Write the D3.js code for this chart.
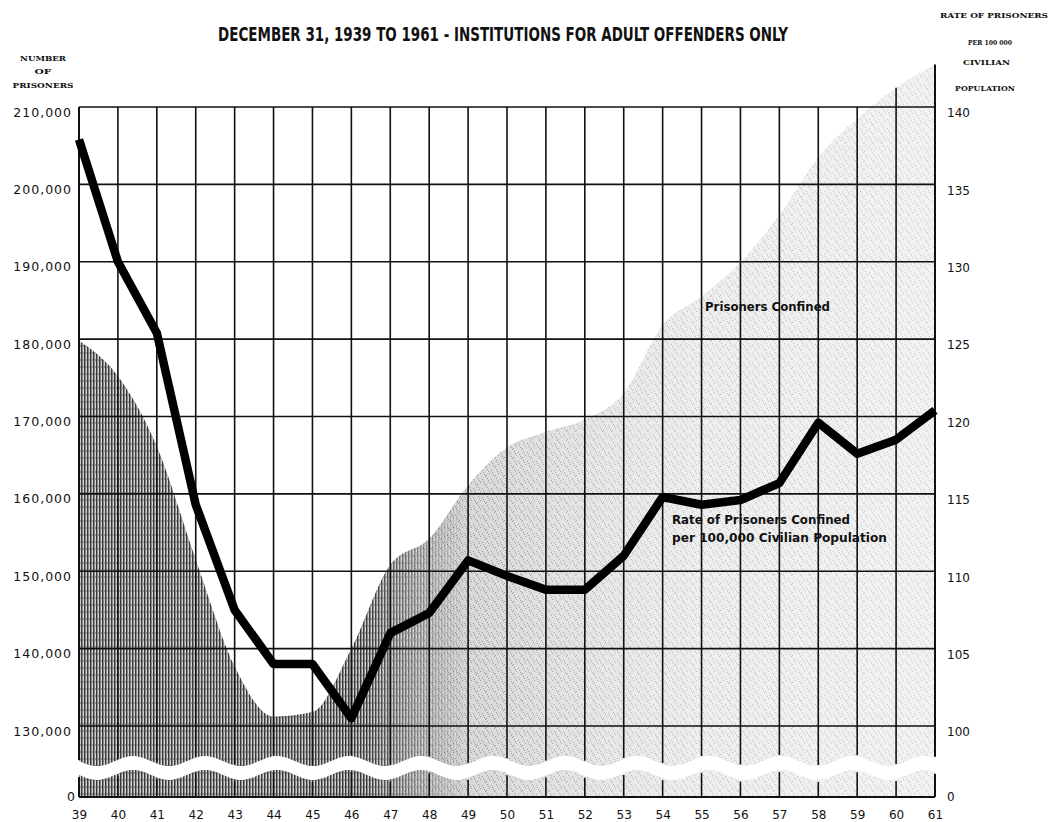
<!DOCTYPE html>
<html>
<head>
<meta charset="utf-8">
<script src="https://cdn.jsdelivr.net/npm/d3@7"></script>
<style>
  html, body { margin: 0; padding: 0; background: #ffffff; }
  svg { display: block; }
</style>
</head>
<body>
<svg id="chart" width="1052" height="822"></svg>
<script>
// ---------------- DATA ----------------
const years = [1939,1940,1941,1942,1943,1944,1945,1946,1947,1948,1949,1950,1951,1952,1953,1954,1955,1956,1957,1958,1959,1960,1961];
const yearLabels = ["39","40","41","42","43","44","45","46","47","48","49","50","51","52","53","54","55","56","57","58","59","60","61"];
// Prisoners confined (left axis)
const prisoners = [179800,175200,166100,151500,137700,131200,131800,140000,150800,154200,161100,166000,168000,169600,173000,181800,185500,190000,196000,203500,208500,212500,215500];
// Rate of prisoners per 100,000 civilian population (right axis)
const rate = [137.9,130.0,125.4,114.3,107.5,104.0,104.0,100.5,106.0,107.3,110.7,109.7,108.8,108.8,111.0,114.8,114.3,114.6,115.7,119.6,117.6,118.5,120.4];
// Tick values / labels
const leftTicks = [130000,140000,150000,160000,170000,180000,190000,200000,210000];
const leftTickLabels = ["130,000","140,000","150,000","160,000","170,000","180,000","190,000","200,000","210,000"];
const rightTicks = [100,105,110,115,120,125,130,135,140];
const rightTickLabels = ["100","105","110","115","120","125","130","135","140"];
const titleText = "DECEMBER 31, 1939 TO 1961  -  INSTITUTIONS FOR ADULT OFFENDERS ONLY";
const leftTitle = ["NUMBER","OF","PRISONERS"];
const rightTitle = ["RATE OF PRISONERS","PER 100 000","CIVILIAN","POPULATION"];

// ---------------- LAYOUT ----------------
const svg = d3.select("#chart");
const X0 = 79, X1 = 935, YTOP = 107, Y130 = 726, YZERO = 797;
const x = d3.scaleLinear().domain([1939,1961]).range([X0, X1]);
const yN = d3.scaleLinear().domain([130000,210000]).range([Y130, YTOP]);
const yR = d3.scaleLinear().domain([100,140]).range([Y130, YTOP]);
const waveUpper = px => 761 + 5 * Math.sin((px - X0) / 72 * 2 * Math.PI);
const waveLower = px => waveUpper(px) + 14;
const wavePts = d3.range(X0, X1 + 0.1, 2).concat([X1]);

const defs = svg.append("defs");
// vertical hatch pattern
const hatch = defs.append("pattern").attr("id","hatch").attr("patternUnits","userSpaceOnUse")
  .attr("width",3).attr("height",7);
hatch.append("rect").attr("width",3).attr("height",7).attr("fill","#d4d4d4");
hatch.append("rect").attr("x",0).attr("width",1.5).attr("height",7).attr("fill","#3a3a3a");
hatch.append("rect").attr("x",1.8).attr("y",2).attr("width",0.8).attr("height",2).attr("fill","#777");
// stipple pattern
const dots = defs.append("pattern").attr("id","dots").attr("patternUnits","userSpaceOnUse")
  .attr("width",9).attr("height",9);
[[1,1],[5,2],[3,5],[7,6],[0,7],[6,4],[2,3],[8,8]].forEach(([a,b]) =>
  dots.append("rect").attr("x",a).attr("y",b).attr("width",1).attr("height",1).attr("fill","#555"));
// base gradient
const gb = defs.append("linearGradient").attr("id","gradBase").attr("gradientUnits","userSpaceOnUse")
  .attr("x1",X0).attr("x2",X1).attr("y1",0).attr("y2",0);
[[0,"#c0c0c0"],[0.32,"#cacaca"],[0.45,"#d8d8d8"],[0.6,"#e6e6e6"],[0.72,"#eeeeee"],[1,"#f2f2f2"]].forEach(([o,c]) =>
  gb.append("stop").attr("offset",o).attr("stop-color",c));
// dot density gradient (as mask)
const gd = defs.append("linearGradient").attr("id","gradDots").attr("gradientUnits","userSpaceOnUse")
  .attr("x1",X0).attr("x2",X1).attr("y1",0).attr("y2",0);
[[0,"#fff"],[0.45,"#ddd"],[0.65,"#888"],[1,"#666"]].forEach(([o,c]) =>
  gd.append("stop").attr("offset",o).attr("stop-color",c));
defs.append("mask").attr("id","dotsMask").attr("maskUnits","userSpaceOnUse")
  .attr("x",0).attr("y",0).attr("width",1052).attr("height",822)
  .append("rect").attr("x",0).attr("y",0).attr("width",1052).attr("height",822).attr("fill","url(#gradDots)");
// hatch fade mask
const gm = defs.append("linearGradient").attr("id","gradMask").attr("gradientUnits","userSpaceOnUse")
  .attr("x1",x(1946.4)).attr("x2",x(1949)).attr("y1",0).attr("y2",0);
gm.append("stop").attr("offset",0).attr("stop-color","#fff");
gm.append("stop").attr("offset",1).attr("stop-color","#000");
defs.append("mask").attr("id","hatchMask").attr("maskUnits","userSpaceOnUse")
  .attr("x",0).attr("y",0).attr("width",1052).attr("height",822)
  .append("rect").attr("x",0).attr("y",0).attr("width",1052).attr("height",822).attr("fill","url(#gradMask)");

// ---------------- AREA ----------------
const pdata = years.map((yr,i) => ({year: yr, v: prisoners[i]}));
const topLine = d3.line().x(d => x(d.year)).y(d => yN(d.v)).curve(d3.curveMonotoneX)(pdata);
const upperPath = topLine + wavePts.slice().reverse().map(px => "L" + px + "," + waveUpper(px)).join("") + "Z";
const lowerPath = "M" + wavePts.map(px => px + "," + waveLower(px)).join("L") + "L" + X1 + "," + YZERO + "L" + X0 + "," + YZERO + "Z";

const areaG = svg.append("g");
[upperPath, lowerPath].forEach(p => {
  areaG.append("path").attr("d", p).attr("fill","url(#gradBase)");
  areaG.append("path").attr("d", p).attr("fill","url(#dots)").attr("mask","url(#dotsMask)").attr("opacity",0.6);
  areaG.append("path").attr("d", p).attr("fill","url(#hatch)").attr("mask","url(#hatchMask)");
});

// ---------------- GRID ----------------
const grid = svg.append("g").attr("stroke","#111").attr("fill","none");
leftTicks.forEach(t => grid.append("line").attr("x1",X0).attr("x2",X1)
  .attr("y1",yN(t)).attr("y2",yN(t)).attr("stroke-width",1.6));
years.forEach((yr,i) => {
  const px = x(yr);
  const top = Math.min(YTOP, yN(prisoners[i]));
  const w = (i === 0 || i === years.length - 1) ? 2 : 1.6;
  grid.append("line").attr("x1",px).attr("x2",px).attr("y1", (i===0) ? YTOP : top).attr("y2", waveUpper(px) - 1)
    .attr("stroke-width", w);
  grid.append("line").attr("x1",px).attr("x2",px).attr("y1", waveLower(px) + 2).attr("y2", YZERO)
    .attr("stroke-width", w);
});
grid.append("line").attr("x1",X0).attr("x2",X1).attr("y1",YZERO).attr("y2",YZERO).attr("stroke-width",2.2);

// ---------------- RATE LINE ----------------
const rdata = years.map((yr,i) => ({year: yr, r: rate[i]}));
svg.append("path")
  .attr("d", d3.line().x(d => x(d.year)).y(d => yR(d.r))(rdata))
  .attr("fill","none").attr("stroke","#000").attr("stroke-width",8.5)
  .attr("stroke-linejoin","round").attr("stroke-linecap","butt");

// ---------------- AXES ----------------
const leftAxis = d3.axisLeft(yN).tickValues(leftTicks).tickFormat((d,i) => leftTickLabels[i]).tickSize(0).tickPadding(7);
const gl = svg.append("g").attr("transform",`translate(${X0},5)`).call(leftAxis);
gl.select(".domain").remove();
gl.selectAll("text").attr("font-family","DejaVu Sans, sans-serif").attr("font-size",12.5)
  .attr("letter-spacing",1).attr("fill","#111");

const rightAxis = d3.axisRight(yR).tickValues(rightTicks).tickFormat((d,i) => rightTickLabels[i]).tickSize(0).tickPadding(12);
const gr = svg.append("g").attr("transform",`translate(${X1},6)`).call(rightAxis);
gr.select(".domain").remove();
gr.selectAll("text").attr("font-family","DejaVu Sans, sans-serif").attr("font-size",12).attr("fill","#111");

// zero labels (below the scale break)
svg.append("text").attr("x",75).attr("y",YZERO+4).attr("text-anchor","end")
  .attr("font-family","DejaVu Sans, sans-serif").attr("font-size",12.5).attr("fill","#111").text("0");
svg.append("text").attr("x",947).attr("y",YZERO+4).attr("text-anchor","start")
  .attr("font-family","DejaVu Sans, sans-serif").attr("font-size",12).attr("fill","#111").text("0");

const bottomAxis = d3.axisBottom(x).tickValues(years).tickFormat((d,i) => yearLabels[i]).tickSize(0).tickPadding(13);
const gx = svg.append("g").attr("transform",`translate(0,${YZERO})`).call(bottomAxis);
gx.select(".domain").remove();
gx.selectAll("text").attr("font-family","DejaVu Sans, sans-serif").attr("font-size",12).attr("fill","#111");

// ---------------- TITLES ----------------
svg.append("text").attr("x",218).attr("y",41)
  .attr("font-family","DejaVu Sans Condensed, DejaVu Sans, sans-serif").attr("font-weight","bold")
  .attr("font-size",19).attr("textLength",570).attr("lengthAdjust","spacingAndGlyphs")
  .attr("fill","#111").text(titleText);

const ltY = [61, 74, 88], ltW = [46, 17, 61];
leftTitle.forEach((t,i) => svg.append("text").attr("x",43 - ltW[i]/2).attr("y",ltY[i])
  .attr("font-family","DejaVu Serif, serif").attr("font-weight","bold").attr("font-size",8)
  .attr("textLength",ltW[i]).attr("lengthAdjust","spacingAndGlyphs").attr("fill","#111").text(t));

const rtY = [18, 45, 65, 91], rtX = [940, 968, 963, 955], rtW = [108, 44, 47, 60];
rightTitle.forEach((t,i) => svg.append("text").attr("x",rtX[i]).attr("y",rtY[i])
  .attr("font-family","DejaVu Serif, serif").attr("font-weight","bold").attr("font-size",8)
  .attr("textLength",rtW[i]).attr("lengthAdjust","spacingAndGlyphs").attr("fill","#111").text(t));

// ---------------- ANNOTATIONS ----------------
const annFont = "DejaVu Sans Condensed, DejaVu Sans, sans-serif";
svg.append("text").attr("x",705).attr("y",311)
  .attr("font-family",annFont).attr("font-weight","bold").attr("font-size",12)
  .attr("textLength",125).attr("lengthAdjust","spacingAndGlyphs").attr("fill","#111").text("Prisoners  Confined");
svg.append("text").attr("x",672).attr("y",524)
  .attr("font-family",annFont).attr("font-weight","bold").attr("font-size",12)
  .attr("textLength",178).attr("lengthAdjust","spacingAndGlyphs").attr("fill","#111").text("Rate of Prisoners Confined");
svg.append("text").attr("x",672).attr("y",542)
  .attr("font-family",annFont).attr("font-weight","bold").attr("font-size",12)
  .attr("textLength",215).attr("lengthAdjust","spacingAndGlyphs").attr("fill","#111").text("per 100,000 Civilian Population");
</script>
</body>
</html>
